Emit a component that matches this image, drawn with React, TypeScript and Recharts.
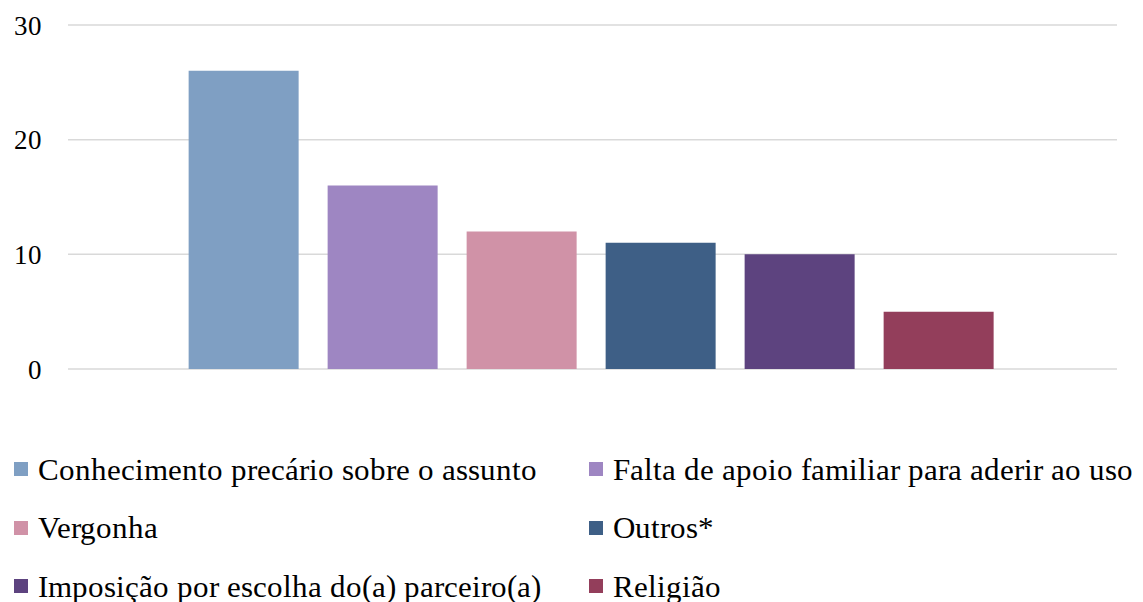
import { Bar, BarChart, CartesianGrid, XAxis, YAxis } from 'recharts';

const categories = ['Motivos'];

const seriesNames = [
  'Conhecimento precário sobre o assunto',
  'Falta de apoio familiar para aderir ao uso',
  'Vergonha',
  'Outros*',
  'Imposição por escolha do(a) parceiro(a)',
  'Religião'
];

const seriesValues = [26, 16, 12, 11, 10, 5];

const seriesColors = ['#7F9FC3', '#9E86C2', '#D092A7', '#3E5F86', '#5D437F', '#933E5B'];

const yTicks = [0, 10, 20, 30];

// local() lookup so the Times-like face is picked up by name
const fontCss = `@font-face { font-family: 'RefSerif'; src: local('Liberation Serif'), local('LiberationSerif'), local('Times New Roman'), local('DejaVu Serif'); }`;
const FONT = 'RefSerif, "Liberation Serif", "Times New Roman", serif';

const data = categories.map((cat) => {
  const row: Record<string, string | number> = { cat };
  seriesNames.forEach((name, i) => {
    row['s' + i] = seriesValues[i];
  });
  return row;
});

export default function App() {
  return (
    <div style={{ position: 'absolute', left: 0, top: 0, width: 1143, height: 602, background: '#fff', fontFamily: FONT }}>
      <style>{fontCss}</style>
      <BarChart
        width={1143}
        height={602}
        data={data}
        margin={{ top: 25, right: 26, bottom: 233, left: 8 }}
        barCategoryGap="11.5%"
        barGap={29}
      >
        <CartesianGrid vertical={false} stroke="#d9d9d9" strokeWidth={1.5} />
        <XAxis dataKey="cat" hide />
        <YAxis
          width={60}
          domain={[0, 30]}
          ticks={yTicks}
          axisLine={false}
          tickLine={false}
          tickSize={0}
          tickMargin={26}
          tick={{ fill: '#000', fontSize: 27, fontFamily: FONT }}
        />
        {seriesNames.map((name, i) => (
          <Bar key={name} dataKey={'s' + i} name={name} fill={seriesColors[i]} isAnimationActive={false} />
        ))}
      </BarChart>
      {/* legend laid out like the original: two columns, three rows */}
      <div
        style={{
          position: 'absolute',
          top: 440,
          left: 14,
          display: 'grid',
          gridTemplateColumns: '575px 550px',
          gridAutoRows: '58.5px',
          fontFamily: FONT,
          fontSize: 31,
          lineHeight: 1,
          color: '#000'
        }}
      >
        {seriesNames.map((name, i) => (
          <div key={name} style={{ display: 'flex', alignItems: 'center', whiteSpace: 'nowrap' }}>
            <span
              style={{ width: 14, height: 14, background: seriesColors[i], display: 'inline-block', marginRight: 10 }}
            />
            <span>{name}</span>
          </div>
        ))}
      </div>
    </div>
  );
}
